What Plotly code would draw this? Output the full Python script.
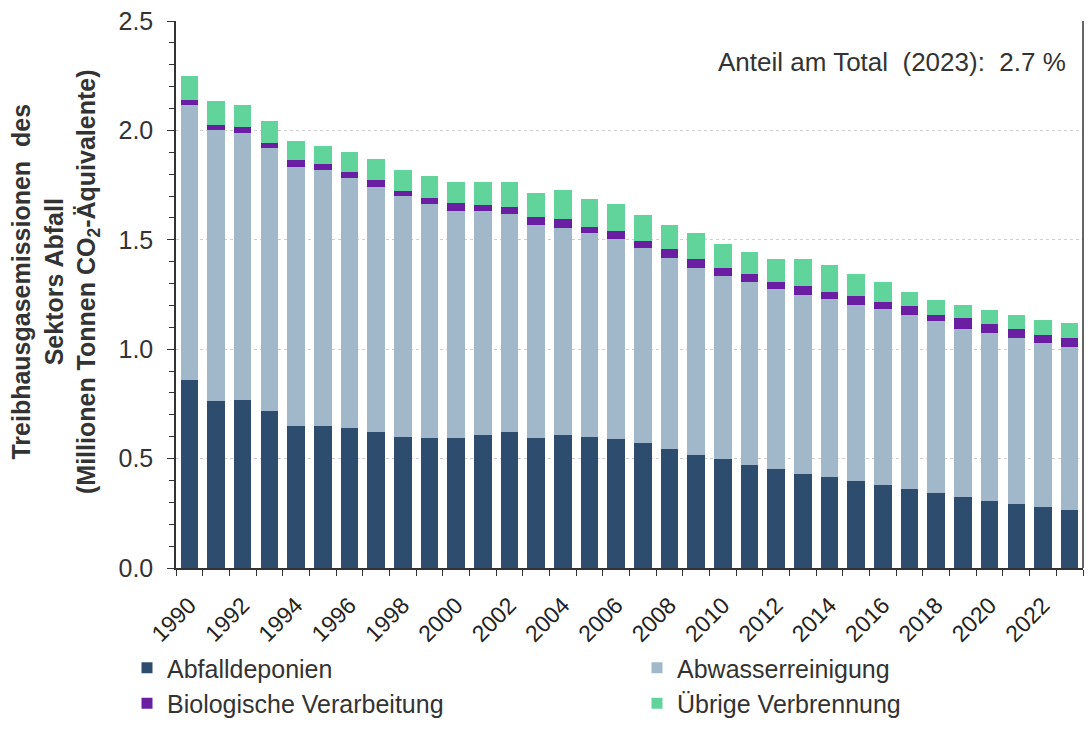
import plotly.graph_objects as go

years = [str(y) for y in range(1990, 2024)]

abfalldeponien = [0.861, 0.762, 0.769, 0.716, 0.647, 0.647, 0.638, 0.620, 0.601, 0.592,
                  0.592, 0.610, 0.620, 0.592, 0.610, 0.601, 0.590, 0.571, 0.543, 0.516,
                  0.498, 0.470, 0.452, 0.430, 0.415, 0.397, 0.379, 0.360, 0.342, 0.324,
                  0.308, 0.293, 0.278, 0.266]
abwasserreinigung = [1.254, 1.240, 1.218, 1.204, 1.188, 1.172, 1.143, 1.121, 1.099, 1.070,
                     1.040, 1.020, 0.999, 0.974, 0.945, 0.928, 0.912, 0.893, 0.875, 0.856,
                     0.836, 0.836, 0.824, 0.820, 0.815, 0.804, 0.805, 0.798, 0.786, 0.769,
                     0.767, 0.756, 0.751, 0.745]
biologische = [0.023, 0.023, 0.029, 0.021, 0.030, 0.029, 0.029, 0.031, 0.025, 0.028,
               0.038, 0.029, 0.031, 0.038, 0.038, 0.029, 0.038, 0.030, 0.038, 0.038,
               0.038, 0.039, 0.032, 0.038, 0.032, 0.041, 0.031, 0.039, 0.030, 0.050,
               0.038, 0.045, 0.038, 0.038]
uebrige = [0.112, 0.110, 0.101, 0.103, 0.085, 0.083, 0.093, 0.096, 0.094, 0.102,
           0.096, 0.105, 0.114, 0.112, 0.133, 0.130, 0.122, 0.119, 0.111, 0.122,
           0.110, 0.100, 0.105, 0.122, 0.121, 0.103, 0.093, 0.065, 0.066, 0.061,
           0.065, 0.064, 0.065, 0.071]

series = [
    ("Abfalldeponien", abfalldeponien, "#2E4C6D", "legend"),
    ("Abwasserreinigung", abwasserreinigung, "#A0B8CA", "legend2"),
    ("Biologische Verarbeitung", biologische, "#6A1FA2", "legend"),
    ("Übrige Verbrennung", uebrige, "#60D49B", "legend2"),
]

tick_text = [y if int(y) % 2 == 0 else "" for y in years]

FONT = "Liberation Sans, Arial, sans-serif"
TXT = "#333333"

fig = go.Figure()
for name, vals, col, lg in series:
    fig.add_trace(go.Bar(x=years, y=vals, name=name, marker_color=col,
                         marker_line_width=0, showlegend=False))
# legend entries with small square markers
for name, vals, col, lg in series:
    fig.add_trace(go.Scatter(x=[None], y=[None], mode="markers", name=name,
                             legend=lg,
                             marker=dict(symbol="square", size=11, color=col)))

# plot area in pixels
W, H = 1090, 729
PL, PR, PT, PB = 176, 1083, 21, 568
LEG_TOP = 645

def px_x(x):
    return (x - PL) / (PR - PL)
def px_y(y):
    return (PB - y) / (PB - PT)

# legends positioned against the whole figure (container) so they do not squeeze the plot
legend_common = dict(orientation="v", yanchor="top", xanchor="left",
                     xref="paper", yref="container", y=1 - LEG_TOP / H,
                     traceorder="normal", itemwidth=30,
                     font=dict(family=FONT, size=25, color=TXT),
                     bgcolor="rgba(0,0,0,0)")

fig.update_layout(
    width=W, height=H,
    barmode="stack", bargap=0.34,
    plot_bgcolor="white", paper_bgcolor="white",
    margin=dict(l=PL, r=W - PR, t=PT, b=H - PB),
    font=dict(family=FONT, size=24, color=TXT),
    legend=dict(x=px_x(127), **legend_common),
    legend2=dict(x=px_x(637), **legend_common),
    showlegend=True,
)

fig.update_xaxes(
    type="category", tickmode="array", tickvals=years, ticktext=tick_text,
    tickangle=-45, tickson="boundaries", ticks="outside", ticklen=6,
    ticklabelstandoff=13, automargin=False,
    tickcolor=TXT, showline=True, linecolor=TXT, linewidth=1.5,
    showgrid=False, tickfont=dict(family=FONT, size=23, color="#222222"),
    range=[-0.5, 33.5],
)
fig.update_yaxes(
    range=[0, 2.5], dtick=0.5, tickformat=".1f", ticks="outside", ticklen=7,
    ticklabelstandoff=9, automargin=False,
    tickcolor=TXT, showline=True, linecolor=TXT, linewidth=1.5,
    showgrid=True, gridcolor="#cfcfcf", griddash="dot", gridwidth=1,
    zeroline=False, tickfont=dict(family=FONT, size=25, color=TXT),
    minor=dict(dtick=0.1, ticks="outside", ticklen=5, tickcolor=TXT, showgrid=False),
)

# y-axis title as rotated annotation (three lines)
fig.add_annotation(
    text="<b>Treibhausgasemissionen  des<br>Sektors Abfall<br>(Millionen Tonnen CO<sub>2</sub>-Äquivalente)</b>",
    xref="paper", yref="paper", x=px_x(55), y=px_y(282),
    xanchor="center", yanchor="middle", textangle=-90, showarrow=False,
    font=dict(family=FONT, size=25, color=TXT))

# right border line of plot area
fig.add_shape(type="line", xref="paper", yref="paper", x0=1, x1=1, y0=0, y1=1,
              line=dict(color=TXT, width=1.5))

fig.add_annotation(text="Anteil am Total  (2023):  2.7 %", xref="paper", yref="paper",
                   x=px_x(1068), y=px_y(62), xanchor="right", yanchor="middle",
                   showarrow=False, font=dict(family=FONT, size=26, color=TXT))

fig.write_html("out.html", config={"displayModeBar": False},
               post_script="document.body.style.margin='0';document.body.style.overflow='hidden';")
